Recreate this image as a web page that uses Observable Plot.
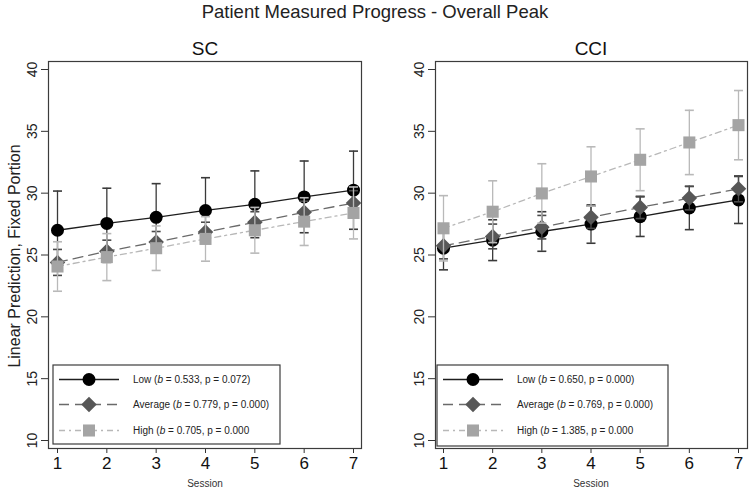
<!DOCTYPE html>
<html><head><meta charset="utf-8">
<script src="https://cdn.jsdelivr.net/npm/d3@7"></script>
<script src="https://cdn.jsdelivr.net/npm/@observablehq/plot@0.6"></script>
<style>
body{margin:0;background:#fff;font-family:"Liberation Sans",Arial,sans-serif;}
#wrap{position:relative;width:750px;height:490px;overflow:hidden;background:#fff;}
#wrap > svg{position:absolute;top:0;}
</style></head><body><div id="wrap"></div>
<script>
// ---- data ----
const sessions = [1, 2, 3, 4, 5, 6, 7];
const groups = ["Low", "Average", "High"];
const yTicks = [10, 15, 20, 25, 30, 35, 40];

// SC panel
const scLow = [27.0, 27.55, 28.05, 28.6, 29.1, 29.7, 30.24];
const scLowCI = [3.17, 2.85, 2.72, 2.65, 2.7, 2.9, 3.16];
const scAvg = [24.4, 25.3, 26.05, 26.85, 27.65, 28.45, 29.2];
const scAvgCI = [1.05, 0.9, 0.85, 0.8, 0.85, 0.9, 1.0];
const scHigh = [24.07, 24.83, 25.55, 26.3, 27.0, 27.7, 28.4];
const scHighCI = [2.0, 1.9, 1.8, 1.8, 1.85, 1.93, 2.1];
const scLegend = [
  ["Low (", "0.533", "0.072)"],
  ["Average (", "0.779", "0.000)"],
  ["High (", "0.705", "0.000"]
];

// CCI panel
const cciLow = [25.55, 26.2, 26.9, 27.5, 28.1, 28.8, 29.45];
const cciLowCI = [1.75, 1.65, 1.6, 1.55, 1.6, 1.75, 1.9];
const cciAvg = [25.74, 26.5, 27.25, 28.05, 28.85, 29.6, 30.35];
const cciAvgCI = [1.05, 1.0, 0.95, 0.9, 0.9, 0.95, 1.05];
const cciHigh = [27.16, 28.5, 29.98, 31.35, 32.7, 34.1, 35.5];
const cciHighCI = [2.64, 2.5, 2.4, 2.4, 2.5, 2.6, 2.8];
const cciLegend = [
  ["Low (", "0.650", "0.000)"],
  ["Average (", "0.769", "0.000)"],
  ["High (", "1.385", "0.000"]
];

// ---- styles ----
const styles = {
  Low:     {line: "#1e1e1e", dash: null,      marker: "#000000", bar: "#3a3a3a", symbol: "circle",   r: 6.5},
  Average: {line: "#6a6a6a", dash: "10,6",    marker: "#575757", bar: "#4a4a4a", symbol: "diamond2", r: 7.0},
  High:    {line: "#b8b8b8", dash: "6,4,2,4", marker: "#a4a4a4", bar: "#b9b9b9", symbol: "square",   r: 6.8}
};
const capSymbol = {draw(ctx) { ctx.moveTo(-4.5, 0); ctx.lineTo(4.5, 0); }};
const FONT = "'Liberation Sans', Arial, sans-serif";

const wrap = d3.select("#wrap");

function panel(p) {
  const rows = [];
  groups.forEach((g, gi) => p.means[gi].forEach((m, i) => rows.push({
    session: sessions[i], group: g, mean: m, lo: m - p.ci[gi][i], hi: m + p.ci[gi][i]
  })));
  const marks = [
    Plot.axisY({ticks: yTicks, tickSize: 7, tickFormat: () => "", label: null, stroke: "#333"}),
    Plot.text(yTicks, {y: d => d, text: d => String(d), frameAnchor: "left", dx: -12, rotate: -90,
      textAnchor: "middle", lineAnchor: "bottom", fontSize: 14, fill: "#222"}),
    Plot.axisX({ticks: sessions, tickFormat: d => String(d), tickSize: 5, tickPadding: 3, label: null,
      fontSize: 17, stroke: "#333", fill: "#111"}),
    Plot.frame({stroke: "#3c3c3c", strokeWidth: 1.2})
  ];
  groups.forEach(g => {
    const s = styles[g];
    const d = rows.filter(r => r.group === g);
    marks.push(Plot.line(d, {x: "session", y: "mean", stroke: s.line, strokeWidth: 1.3, strokeDasharray: s.dash}));
    marks.push(Plot.ruleX(d, {x: "session", y1: "lo", y2: "hi", stroke: s.bar, strokeWidth: 1.3}));
    marks.push(Plot.dot(d, {x: "session", y: "lo", symbol: capSymbol, fill: "none", stroke: s.bar, strokeWidth: 1.6}));
    marks.push(Plot.dot(d, {x: "session", y: "hi", symbol: capSymbol, fill: "none", stroke: s.bar, strokeWidth: 1.6}));
    marks.push(Plot.dot(d, {x: "session", y: "mean", symbol: s.symbol, r: s.r, fill: s.marker, stroke: "none"}));
  });
  const svg = Plot.plot({
    width: 375, height: 490,
    marginLeft: p.ml, marginRight: p.mr, marginTop: 61, marginBottom: 42,
    style: {fontFamily: FONT, background: "transparent", overflow: "visible"},
    x: {type: "linear", domain: [1, 7], insetLeft: p.il, insetRight: p.ir},
    y: {domain: [10, 40], insetTop: 8, insetBottom: 8},
    marks
  });
  svg.style.left = p.left + "px";
  wrap.node().appendChild(svg);
}

panel({left: 0, ml: 48, mr: 14, il: 9, ir: 8,
  means: [scLow, scAvg, scHigh], ci: [scLowCI, scAvgCI, scHighCI]});
panel({left: 375, ml: 60, mr: 3, il: 8, ir: 9,
  means: [cciLow, cciAvg, cciHigh], ci: [cciLowCI, cciAvgCI, cciHighCI]});

// ---- overlay: titles, labels, legends ----
const ov = wrap.append("svg").attr("width", 750).attr("height", 490)
  .style("left", "0px").style("font-family", FONT);

ov.append("text").attr("x", 375).attr("y", 18).attr("text-anchor", "middle")
  .attr("font-size", 18.5).attr("fill", "#222").text("Patient Measured Progress - Overall Peak");
ov.append("text").attr("x", 205).attr("y", 55).attr("text-anchor", "middle")
  .attr("font-size", 19).attr("fill", "#111").text("SC");
ov.append("text").attr("x", 591).attr("y", 55).attr("text-anchor", "middle")
  .attr("font-size", 19).attr("fill", "#111").text("CCI");
ov.append("text").attr("transform", "translate(20,256) rotate(-90)").attr("text-anchor", "middle")
  .attr("font-size", 16).attr("fill", "#222").text("Linear Prediction, Fixed Portion");
[205, 591].forEach(cx => ov.append("text").attr("x", cx).attr("y", 487).attr("text-anchor", "middle")
  .attr("font-size", 10).attr("fill", "#333").text("Session"));

function legend(x0, y0, w, h, entries) {
  const g = ov.append("g").attr("transform", `translate(${x0},${y0})`);
  g.append("rect").attr("width", w).attr("height", h).attr("fill", "#fff").attr("stroke", "#3c3c3c").attr("stroke-width", 1.2);
  const rowsY = [14.5, 39.5, 65.5];
  groups.forEach((gname, i) => {
    const s = styles[gname];
    const y = rowsY[i];
    g.append("line").attr("x1", 6).attr("x2", 66).attr("y1", y).attr("y2", y)
      .attr("stroke", s.line).attr("stroke-width", 1.3).attr("stroke-dasharray", s.dash);
    const size = Math.PI * s.r * s.r;
    const sym = {circle: d3.symbolCircle, diamond2: d3.symbolDiamond2, square: d3.symbolSquare}[s.symbol];
    g.append("path").attr("transform", `translate(36,${y})`).attr("d", d3.symbol(sym, size)()).attr("fill", s.marker);
    const t = g.append("text").attr("x", 80).attr("y", y + 3.5).attr("font-size", 10).attr("fill", "#222");
    const e = entries[i];
    t.append("tspan").text(e[0]);
    t.append("tspan").attr("font-style", "italic").text("b");
    t.append("tspan").text(" = " + e[1] + ", p = " + e[2]);
  });
}
legend(53, 365, 227, 79, scLegend);
legend(437, 365, 231, 81, cciLegend);
</script></body></html>
